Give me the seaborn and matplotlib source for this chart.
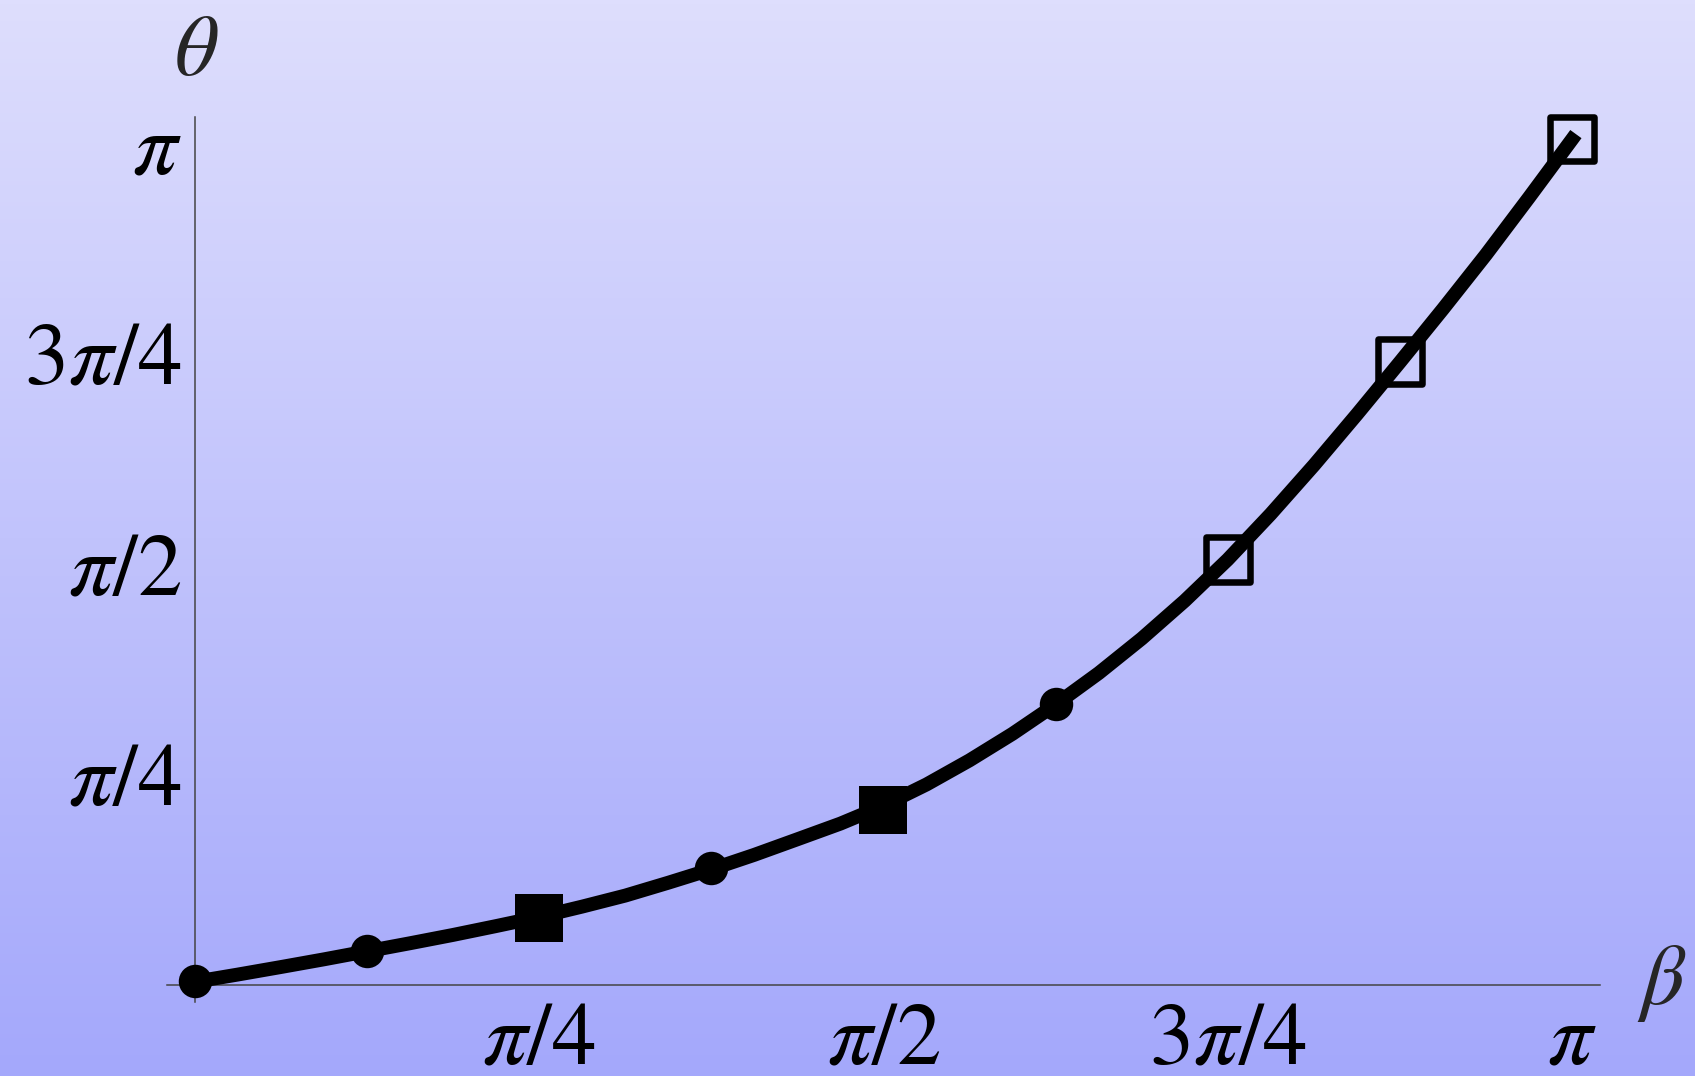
import numpy as np
import pandas as pd
import seaborn as sns
import matplotlib.pyplot as plt
from matplotlib.colors import LinearSegmentedColormap

# curve every pi/32 (radians), plus the end cap
beta_curve = [0.0, 0.098, 0.196, 0.295, 0.393, 0.491, 0.589, 0.687, 0.785, 0.884,
              0.982, 1.080, 1.178, 1.276, 1.374, 1.473, 1.571, 1.669, 1.767, 1.865,
              1.963, 2.062, 2.160, 2.258, 2.356, 2.454, 2.553, 2.651, 2.749, 2.847,
              2.945, 3.043, 3.142, 3.150]
theta_curve = [0.010, 0.037, 0.065, 0.094, 0.124, 0.154, 0.185, 0.218, 0.252, 0.291,
               0.332, 0.380, 0.430, 0.484, 0.542, 0.601, 0.668, 0.747, 0.837, 0.936,
               1.045, 1.163, 1.292, 1.433, 1.587, 1.757, 1.940, 2.130, 2.325, 2.523,
               2.726, 2.939, 3.158, 3.176]

beta_dots = [0.0, np.pi / 8, 3 * np.pi / 8, 5 * np.pi / 8]
theta_dots = [0.014, 0.125, 0.434, 1.048]
beta_full_sq = [np.pi / 4, np.pi / 2]
theta_full_sq = [0.250, 0.652]
beta_open_sq = [3 * np.pi / 4, 7 * np.pi / 8, np.pi]
theta_open_sq = [1.587, 2.326, 3.157]

tick_vals = [np.pi / 4, np.pi / 2, 3 * np.pi / 4, np.pi]
tick_labels = [r'$\pi/4$', r'$\pi/2$', r'$3\pi/4$', r'$\pi$']

sns.set_theme(style='white')
plt.rcParams['mathtext.fontset'] = 'stix'
plt.rcParams['font.family'] = ['STIXGeneral', 'DejaVu Sans']

W, H, DPI = 1695, 1076, 100
fig = plt.figure(figsize=(W / DPI, H / DPI), dpi=DPI)

# gradient background
bg = fig.add_axes([0, 0, 1, 1], zorder=-1)
cmap = LinearSegmentedColormap.from_list('bg', ['#dedefd', '#a4a8fb'])
bg.imshow(np.linspace(0, 1, 256).reshape(-1, 1), cmap=cmap, aspect='auto', extent=[0, 1, 0, 1])
bg.axis('off')

ax = fig.add_axes([0, 0, 1, 1])
ax.set_facecolor('none')

# pixel layout of the origin and scales
x0_px, y0_px = 194.6, 984.5
sx = 344.4 / (np.pi / 4)
sy = 210.3 / (np.pi / 4)
ax.set_xlim(-x0_px / sx, (W - x0_px) / sx)
ax.set_ylim(-(H - y0_px) / sy, y0_px / sy)

curve = pd.DataFrame({'beta': beta_curve, 'theta': theta_curve})
sns.lineplot(data=curve, x='beta', y='theta', ax=ax, color='black', linewidth=10,
             sort=False, estimator=None, solid_capstyle='butt', solid_joinstyle='round', zorder=3)

sns.scatterplot(x=beta_dots, y=theta_dots, ax=ax, color='black', marker='o', s=580,
                linewidth=0, zorder=4)
sns.scatterplot(x=beta_full_sq, y=theta_full_sq, ax=ax, color='black', marker='s', s=1195,
                linewidth=0, zorder=4)
sns.scatterplot(x=beta_open_sq, y=theta_open_sq, ax=ax, marker='s', s=1024,
                facecolor='none', edgecolor='black', linewidth=4.7, zorder=4)

# mathematica-style crossing axes
axis_col = '#444444'
for side in ['top', 'right']:
    ax.spines[side].set_visible(False)
ax.spines['left'].set_position(('data', 0))
ax.spines['bottom'].set_position(('data', 0))
ax.spines['left'].set_bounds(-0.067, 3.238)
ax.spines['bottom'].set_bounds(-0.063, 3.204)
for side in ['left', 'bottom']:
    ax.spines[side].set_color(axis_col)
    ax.spines[side].set_linewidth(1.1)

ax.set_xticks(tick_vals)
ax.set_xticklabels(tick_labels)
ax.set_yticks(tick_vals)
ax.set_yticklabels(tick_labels)
ax.tick_params(axis='both', direction='in', length=12, width=1.1, color=axis_col,
               labelsize=64, labelcolor='black')
ax.tick_params(axis='x', pad=57)
ax.tick_params(axis='y', pad=9)
for lab in ax.get_xticklabels():
    lab.set_verticalalignment('baseline')

ax.set_xlabel('')
ax.set_ylabel('')
ax.text(196 / W, 1 - 75 / H, r'$\theta$', transform=ax.transAxes, fontsize=62,
        ha='center', va='baseline')
ax.text(1662 / W, 1 - 1004 / H, r'$\beta$', transform=ax.transAxes, fontsize=62,
        ha='center', va='baseline')

fig.savefig('out.png', dpi=DPI)
